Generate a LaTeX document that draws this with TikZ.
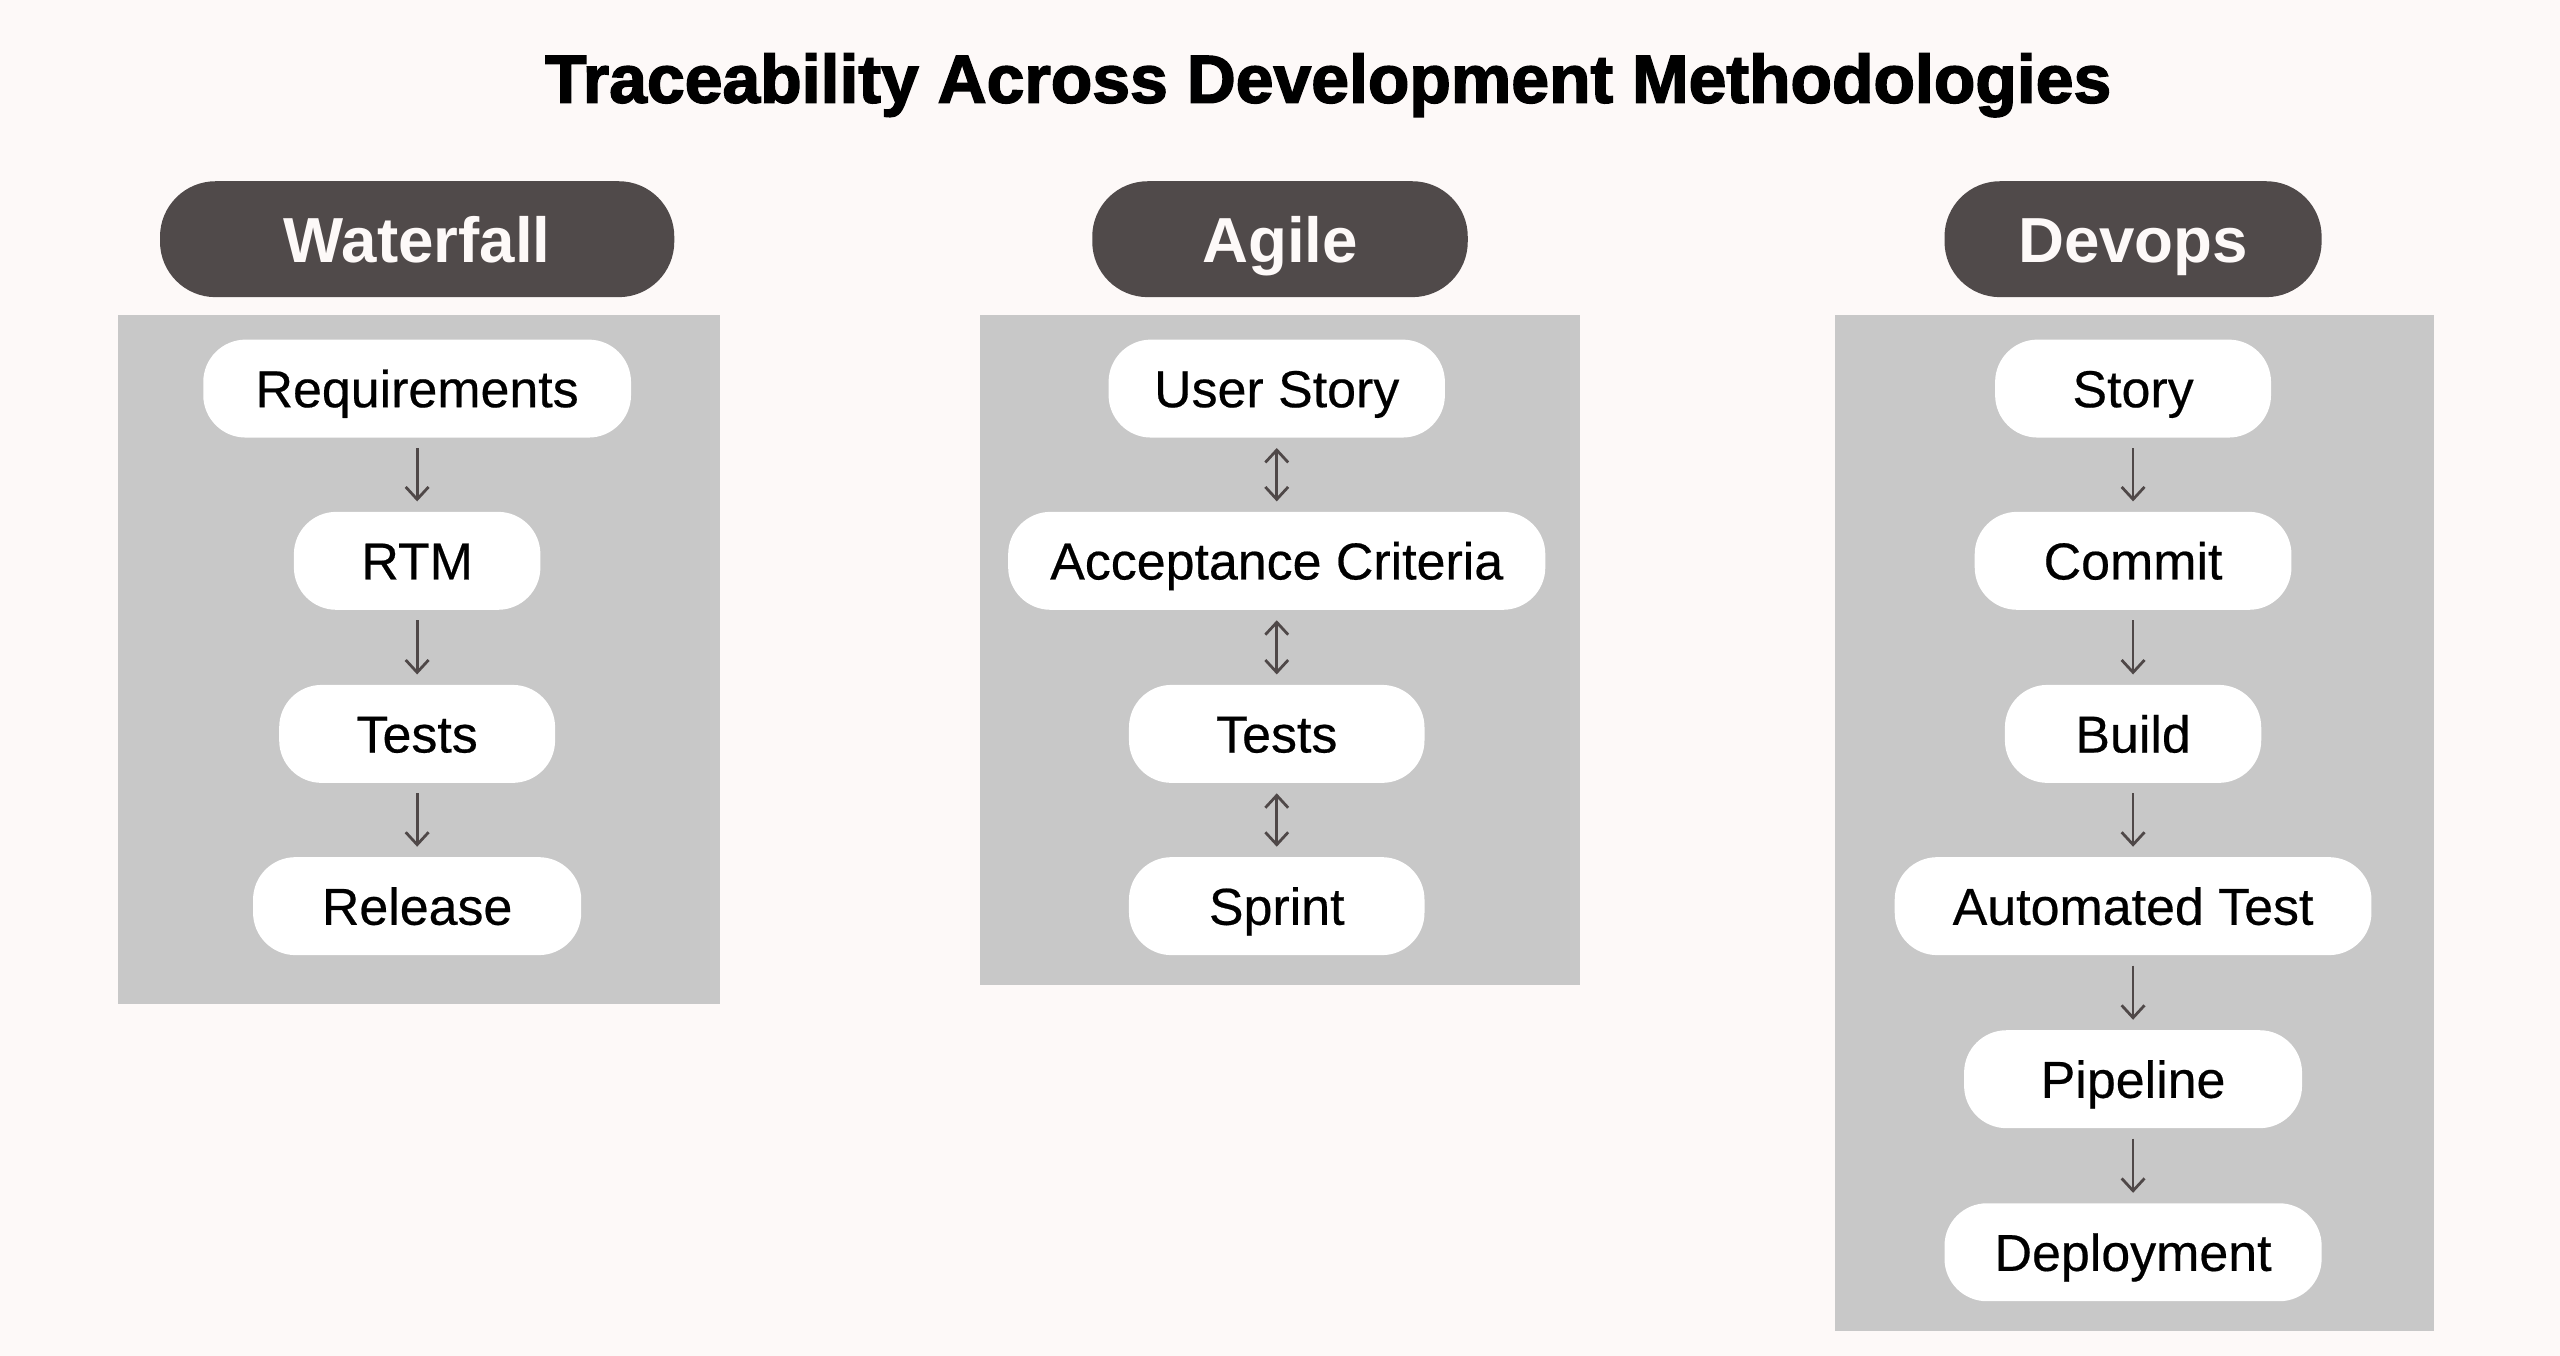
\documentclass[tikz,border=0pt]{standalone}
\usepackage{fontspec}
\setmainfont{Liberation Sans}
\newfontfamily\titlefont[FakeBold=2.2]{Liberation Sans Bold}
\newfontfamily\nodefont[FakeBold=0.4]{Liberation Sans}
\usetikzlibrary{arrows.meta}
\definecolor{bg}{HTML}{FDF9F8}
\definecolor{panel}{HTML}{C8C8C8}
\definecolor{hdr}{HTML}{504A4A}
\definecolor{arr}{HTML}{4F4848}
\tikzset{
  pill/.style={fill=white, rounded corners=13pt, minimum height=30pt, inner sep=0pt,
    text height=11.4pt, text depth=0pt, font=\nodefont\fontsize{15.9}{18}\selectfont, text=black},
  hdrbox/.style={fill=hdr, rounded corners=17pt, minimum height=35.5pt, inner sep=0pt,
    text=bg, font=\bfseries\fontsize{19.5}{22}\selectfont, text height=14pt, text depth=0pt},
  panelbox/.style={fill=panel},
  tip/.tip={Straight Barb[length=3.8pt,width=7pt]},
  flow/.style={draw=arr, line width=0.85pt, -tip, shorten <=3pt, shorten >=3pt},
  biflow/.style={draw=arr, line width=0.85pt, tip-tip, shorten <=3pt, shorten >=3pt},
}
\begin{document}
\begin{tikzpicture}[x=0.5pt,y=-0.5pt]
\fill[bg] (0,0) rectangle (1568,830.5);
\useasboundingbox (0,0) rectangle (1568,830.5);

% title
\node[inner sep=0pt, text height=14.9pt, text depth=0pt, font=\titlefont\fontsize{20.8}{24}\selectfont, text=black]
  (title) at (813.5,48) {Traceability Across Development Methodologies};

% panels
\fill[panelbox] (72,193) rectangle (441,615);
\fill[panelbox] (600,193) rectangle (968,603);
\fill[panelbox] (1124,193) rectangle (1491,815);

% headers
\node[hdrbox, minimum width=157.5pt] (hw) at (255.5,146.5) {Waterfall};
\node[hdrbox, minimum width=115pt] (ha) at (784,146.5) {Agile};
\node[hdrbox, minimum width=115.5pt] (hd) at (1306.5,146.5) {Devops};

% Waterfall
\node[pill, minimum width=131pt] (w1) at (255.5,238) {Requirements};
\node[pill, minimum width=75.5pt] (w2) at (255.5,343.5) {RTM};
\node[pill, minimum width=84.5pt] (w3) at (255.5,449.5) {Tests};
\node[pill, minimum width=100.5pt] (w4) at (255.5,555) {Release};

% Agile
\node[pill, minimum width=103pt] (a1) at (782,238) {User Story};
\node[pill, minimum width=164.5pt] (a2) at (782,343.5) {Acceptance Criteria};
\node[pill, minimum width=90.5pt] (a3) at (782,449.5) {Tests};
\node[pill, minimum width=90.5pt] (a4) at (782,555) {Sprint};

% Devops
\node[pill, minimum width=84.5pt] (d1) at (1306.5,238) {Story};
\node[pill, minimum width=97pt] (d2) at (1306.5,343.5) {Commit};
\node[pill, minimum width=78.5pt] (d3) at (1306.5,449.5) {Build};
\node[pill, minimum width=146pt] (d4) at (1306.5,555) {Automated Test};
\node[pill, minimum width=103.5pt] (d5) at (1306.5,661) {Pipeline};
\node[pill, minimum width=115.5pt] (d6) at (1306.5,767) {Deployment};

% connectors
\draw[flow] (w1) -- (w2);
\draw[flow] (w2) -- (w3);
\draw[flow] (w3) -- (w4);

\draw[biflow] (a1) -- (a2);
\draw[biflow] (a2) -- (a3);
\draw[biflow] (a3) -- (a4);

\draw[flow] (d1) -- (d2);
\draw[flow] (d2) -- (d3);
\draw[flow] (d3) -- (d4);
\draw[flow] (d4) -- (d5);
\draw[flow] (d5) -- (d6);
\end{tikzpicture}
\end{document}
